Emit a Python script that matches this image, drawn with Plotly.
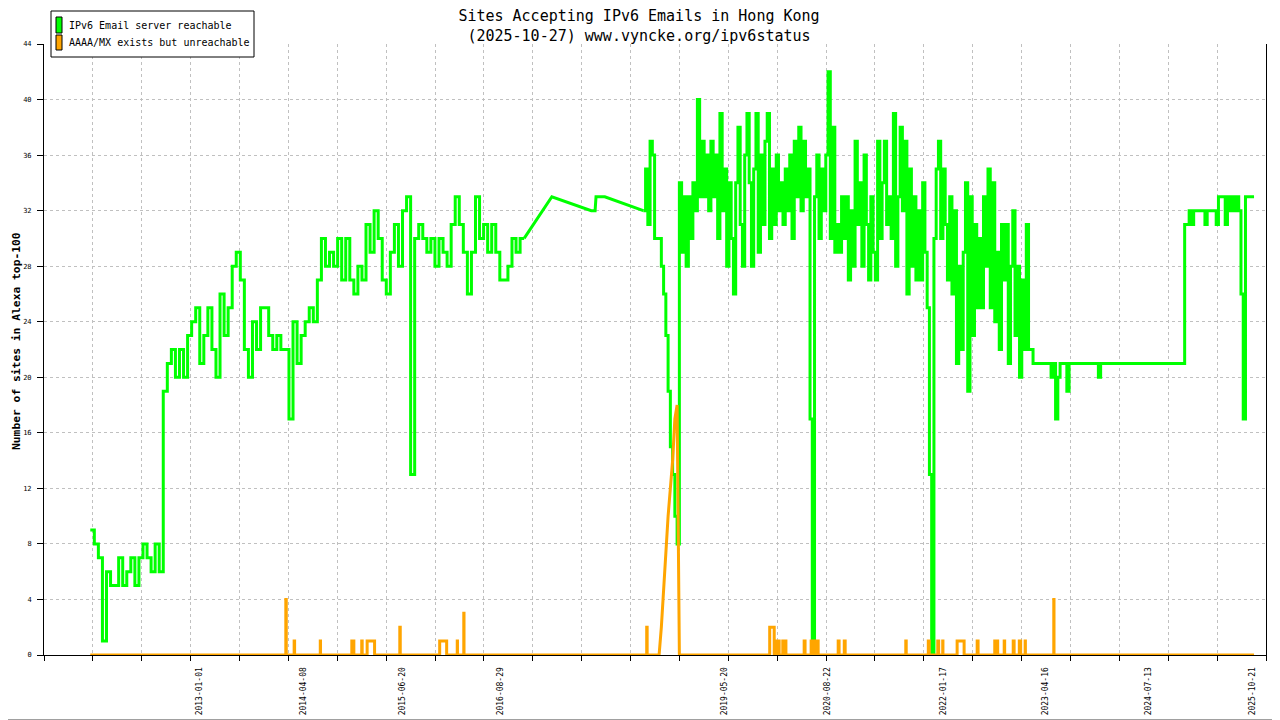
import pandas as pd
import plotly.graph_objects as go

GREEN = "#00ff00"
ORANGE = "#ffa500"
FONT = "DejaVu Sans Mono"

# --- IPv6 Email server reachable ---
# one value every 18 days from 2011-09-05
early_start, early_step = "2011-09-05", 18
early_values = [
    9, 8, 7, 1, 6, 5, 5, 7, 5, 6,
    7, 5, 7, 8, 7, 6, 8, 6, 19, 21,
    22, 20, 22, 20, 23, 24, 25, 21, 23, 25,
    22, 20, 26, 23, 25, 28, 29, 27, 22, 20,
    24, 22, 25, 25, 23, 22, 23, 22, 22, 17,
    24, 21, 23, 24, 25, 24, 27, 30, 28, 29,
    28, 30, 27, 30, 27, 26, 28, 27, 31, 29,
    32, 30, 27, 26, 29, 31, 28, 32, 33, 13,
    30, 31, 30, 29, 30, 28, 30, 29, 28, 31,
    33, 31, 29, 26, 29, 33, 30, 31, 29, 31,
    29, 27, 27, 28, 30, 29, 30, 30,
]

# sparse measurements 2017 - 2018
gap_dates = ["2016-12-13", "2017-04-15", "2017-10-07", "2017-10-24",
             "2017-10-28", "2017-12-06", "2018-05-26"]
gap_values = [30, 33, 32, 32, 33, 33, 32]

# one value every 10 days from 2018-05-26
main_start, main_step = "2018-05-26", 10
main_values = [
    32, 35, 31, 37, 36, 30, 30, 30, 28, 26,
    23, 19, 15, 13, 10, 8, 34, 29, 33, 28,
    33, 30, 34, 32, 40, 33, 37, 33, 36, 32,
    37, 33, 36, 30, 39, 32, 35, 28, 34, 30,
    26, 34, 38, 31, 28, 36, 39, 34, 28, 35,
    39, 29, 36, 31, 37, 39, 30, 35, 31, 36,
    32, 34, 31, 35, 32, 36, 30, 37, 33, 38,
    32, 37, 33, 35, 17, 0, 33, 36, 30, 35,
    32, 36, 42, 30, 38, 29, 31, 29, 33, 30,
    33, 27, 32, 28, 37, 31, 34, 28, 36, 31,
    27, 33, 29, 27, 37, 30, 34, 37, 31, 33,
    30, 39, 28, 33, 38, 32, 37, 26, 35, 28,
    33, 27, 32, 27, 34, 29, 25, 13, 0, 30,
    35, 37, 30, 35, 31, 27, 33, 26, 32, 21,
    28, 22, 29, 34, 19, 33, 23, 31, 25, 30,
    25, 33, 28, 35, 25, 34, 24, 29, 22, 31,
    27, 31, 21, 28, 32, 23, 28, 20, 27, 22,
    31, 22, 22, 21, 21, 21, 21, 21, 21, 21,
    21, 20, 21, 17, 20, 21, 21, 21, 19, 21,
    21, 21, 21, 21, 21, 21, 21, 21, 21, 21,
    21, 21, 20, 21,
]

flat_dates = ["2024-12-20"]
flat_values = [21]

# one value every 10 days from 2024-12-23
recent_start, recent_step = "2024-12-23", 10
recent_values = [
    31, 31, 32, 31, 32, 32, 32, 32, 32, 31,
    32, 32, 32, 32, 31, 33, 33, 33, 31, 33,
    32, 33, 32, 33, 32, 26, 17, 33, 33, 33,
    33,
]
last_date, last_value = "2025-10-27", 33

# --- AAAA/MX exists but unreachable ---
orange_first, orange_last = "2011-09-05", "2025-10-27"
spike_dates = ["2014-01-20", "2014-02-26", "2014-06-22", "2014-11-09", "2014-12-23",
               "2015-01-16", "2015-06-10", "2015-12-04", "2016-02-20", "2016-03-20",
               "2018-06-10", "2019-12-08", "2020-01-06", "2020-02-04", "2020-02-17",
               "2020-05-09", "2020-06-09", "2020-07-01", "2020-10-07", "2020-11-03",
               "2021-08-03", "2021-11-11", "2021-12-23", "2022-01-14", "2022-03-19",
               "2022-06-16", "2022-09-02", "2022-10-14", "2022-11-23", "2022-12-20",
               "2023-01-15", "2023-05-22"]
spike_days = [2, 2, 1, 9, 2, 33, 2, 31, 1, 1,
              2, 20, 13, 4, 1, 4, 13, 9, 4, 4,
              2, 4, 4, 1, 31, 4, 13, 2, 4, 6,
              1, 1]
spike_heights = [4, 1, 1, 1, 1, 1, 2, 1, 1, 3,
                 2, 2, 1, 1, 1, 1, 1, 1, 1, 1,
                 1, 1, 1, 1, 1, 1, 1, 1, 1, 1,
                 1, 4]
ramp_start, ramp_step = "2018-07-25", 10
ramp_values = [0, 0, 2, 5, 7, 10, 12, 14, 17, 18, 0]

label_dates = ["2013-01-01", "2014-04-08", "2015-06-20", "2016-08-29", "2019-05-20",
               "2020-08-22", "2022-01-17", "2023-04-16", "2024-07-13", "2025-10-21"]


def regular(start, step, values):
    return list(pd.date_range(start, periods=len(values), freq=f"{step}D"))


early_x = regular(early_start, early_step, early_values)
late_x = (regular(main_start, main_step, main_values)
          + list(pd.to_datetime(flat_dates))
          + regular(recent_start, recent_step, recent_values)
          + [pd.Timestamp(last_date)])
late_y = main_values + flat_values + recent_values + [last_value]

blocks = []
for d, n, h in zip(spike_dates, spike_days, spike_heights):
    s = pd.Timestamp(d)
    e = s + pd.Timedelta(days=n)
    blocks.append((s, [(s, 0), (s, h), (e, h), (e, 0)]))
ramp_x = regular(ramp_start, ramp_step, ramp_values)
blocks.append((ramp_x[0], list(zip(ramp_x, ramp_values))))
blocks.sort(key=lambda b: b[0])
orange_pts = ([(pd.Timestamp(orange_first), 0)]
              + [p for _, b in blocks for p in b]
              + [(pd.Timestamp(orange_last), 0)])
orange_x = [p[0] for p in orange_pts]
orange_y = [p[1] for p in orange_pts]

fig = go.Figure()
fig.add_trace(go.Scatter(x=early_x, y=early_values, mode="lines",
                         line=dict(color=GREEN, width=3, shape="hv"),
                         name="IPv6 Email server reachable", showlegend=False))
fig.add_trace(go.Scatter(x=pd.to_datetime(gap_dates), y=gap_values, mode="lines",
                         line=dict(color=GREEN, width=3),
                         name="IPv6 Email server reachable", showlegend=False))
fig.add_trace(go.Scatter(x=late_x, y=late_y, mode="lines",
                         line=dict(color=GREEN, width=3, shape="hv"),
                         name="IPv6 Email server reachable", showlegend=False))
fig.add_trace(go.Scatter(x=orange_x, y=orange_y, mode="lines",
                         line=dict(color=ORANGE, width=3),
                         name="AAAA/MX exists but unreachable", showlegend=False))

# the page puts the figure 8px in from the top-left corner, so the figure is
# 8px smaller and everything below is placed in page pixels
OFF = 8
W, H = 1280 - OFF, 720 - OFF
ML, MR, MT, MB = 44 - OFF, 14, 44 - OFF, 65


def px(x):
    return (x - OFF - ML) / (W - ML - MR)


def py(y):
    return (H - MB - (y - OFF)) / (H - MT - MB)


x_start, x_end = "2011-02-11 14:00", "2025-12-19 02:00"
span_ms = (pd.Timestamp(x_end) - pd.Timestamp(x_start)).total_seconds() * 1000
grid_step = span_ms / 25

grid = dict(color="#c0c0c0", dash="3px,3px")

fig.update_layout(
    width=W, height=H,
    margin=dict(l=ML, r=MR, t=MT, b=MB, autoexpand=False),
    paper_bgcolor="white", plot_bgcolor="white",
    font=dict(family=FONT, color="black"),
    title=dict(text="Sites Accepting IPv6 Emails in Hong Kong<br>(2025-10-27) www.vyncke.org/ipv6status",
               x=(639 - OFF) / W, xref="container", xanchor="center",
               y=1 - 13 / H, yref="container", yanchor="top", automargin=False,
               font=dict(family=FONT, size=15, color="black")),
    xaxis=dict(type="date", range=[x_start, x_end], automargin=False,
               tickmode="array", tickvals=label_dates, ticktext=label_dates,
               tickangle=-90, ticks="", showgrid=False,
               tickfont=dict(family=FONT, size=8, color="black"),
               ticklabelstandoff=8,
               showline=True, linecolor="black", linewidth=1, zeroline=False,
               minor=dict(tickmode="linear", tick0=x_start, dtick=grid_step,
                          ticks="outside", ticklen=5, tickcolor="black",
                          showgrid=True, gridcolor=grid["color"],
                          griddash=grid["dash"], gridwidth=1)),
    yaxis=dict(range=[0, 44], tickmode="linear", tick0=0, dtick=4, automargin=False,
               ticks="outside", ticklen=6, tickcolor="black",
               tickfont=dict(family=FONT, size=7, color="black"),
               ticklabelstandoff=4,
               showgrid=True, gridcolor=grid["color"], griddash=grid["dash"],
               showline=True, linecolor="black", linewidth=1, mirror=True,
               zeroline=False),
    showlegend=False,
    shapes=[
        # grey picture frame (right and bottom edges lie inside the figure)
        dict(type="line", xref="paper", yref="paper",
             x0=px(1279.5), x1=px(1279.5), y0=py(719.5), y1=py(OFF),
             line=dict(color="#a0a0a0", width=1)),
        dict(type="line", xref="paper", yref="paper",
             x0=px(OFF), x1=px(1279.5), y0=py(719.5), y1=py(719.5),
             line=dict(color="#a0a0a0", width=1)),
        # legend box and colour swatches
        dict(type="rect", xref="paper", yref="paper",
             x0=px(51), x1=px(254), y0=py(57), y1=py(11),
             line=dict(color="black", width=1), fillcolor="white", layer="above"),
        dict(type="rect", xref="paper", yref="paper",
             x0=px(56), x1=px(62), y0=py(33), y1=py(17),
             line=dict(color="black", width=1), fillcolor=GREEN, layer="above"),
        dict(type="rect", xref="paper", yref="paper",
             x0=px(56), x1=px(62), y0=py(50), y1=py(35),
             line=dict(color="black", width=1), fillcolor=ORANGE, layer="above"),
    ],
    annotations=[
        dict(text="IPv6 Email server reachable", xref="paper", yref="paper",
             x=px(67), y=py(25), xanchor="left", yanchor="middle", showarrow=False,
             font=dict(family=FONT, size=10, color="black")),
        dict(text="AAAA/MX exists but unreachable", xref="paper", yref="paper",
             x=px(67), y=py(43), xanchor="left", yanchor="middle", showarrow=False,
             font=dict(family=FONT, size=10, color="black")),
        dict(text="<b>Number of sites in Alexa top-100</b>", xref="paper", yref="paper",
             x=px(16), y=py(341), xanchor="center", yanchor="middle",
             textangle=-90, showarrow=False,
             font=dict(family=FONT, size=11.3, color="black")),
    ],
)

fig.write_html("out.html")
